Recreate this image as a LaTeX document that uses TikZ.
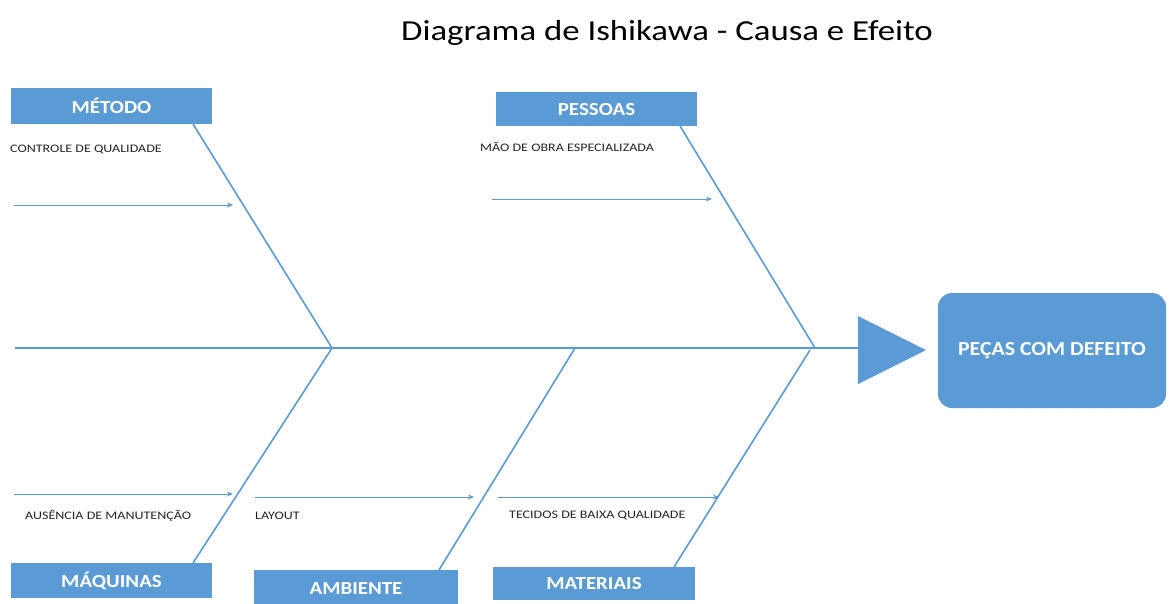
\documentclass[tikz,border=0pt]{standalone}
\usepackage{fontspec}
\setmainfont{Carlito}
\newfontfamily\titlefont[FakeStretch=1.2]{Carlito}
\newfontfamily\boxfont[FakeStretch=1.13]{Carlito}
\newfontfamily\effectfont[FakeStretch=1.09]{Carlito}
\newfontfamily\smallfont[FakeStretch=1.22]{Carlito}
\usetikzlibrary{arrows.meta}
\definecolor{ofblue}{HTML}{5B9BD5}
\begin{document}
\begin{tikzpicture}[x=1pt,y=-1pt,
  catbox/.style={fill=ofblue,draw=none,text=white,font=\boxfont\fontsize{18.5}{20}\selectfont\bfseries,inner sep=0pt},
  bone/.style={draw=ofblue,line width=1.6pt},
  sub/.style={draw=ofblue,line width=0.9pt,-{Stealth[length=6pt,width=5pt]}},
  lbl/.style={font=\smallfont\fontsize{11.5}{13}\selectfont,anchor=west,inner sep=0pt,text=black!85}]
\useasboundingbox (0,0) rectangle (1169,603);
\node[font=\titlefont\fontsize{29}{32}\selectfont] (title) at (667,33) {Diagrama de Ishikawa - Causa e Efeito};
% category boxes
\node[catbox,minimum width=201pt,minimum height=36pt] (metodo) at (111.5,106) {MÉTODO};
\node[catbox,minimum width=201pt,minimum height=34pt] (pessoas) at (596.5,109) {PESSOAS};
\node[catbox,minimum width=201pt,minimum height=35pt] (maquinas) at (111.5,580.5) {MÁQUINAS};
\node[catbox,minimum width=204pt,minimum height=36pt] (ambiente) at (356,588) {AMBIENTE};
\node[catbox,minimum width=202pt,minimum height=33pt] (materiais) at (594,583.5) {MATERIAIS};
% effect
\node[fill=ofblue,rounded corners=14pt,minimum width=228pt,minimum height=115pt,text=white,font=\effectfont\fontsize{20}{22}\selectfont\bfseries] (efeito) at (1052,350.5) {PEÇAS COM DEFEITO};
% spine
\coordinate (s0) at (15,348);
\coordinate (s1) at (858,348);
\draw[bone] (s0) -- (s1);
\fill[ofblue] (858,316) -- (858,384) -- (926,350) -- cycle;
% junctions
\coordinate (j1) at (332,348);
\coordinate (j2) at (815,348);
\coordinate (j3) at (575,348);
\coordinate (j4) at (810,350);
% bones
\draw[bone] (193,124) -- (j1);
\draw[bone] (680,126) -- (j2);
\draw[bone] (j1) -- (193,563);
\draw[bone] (j3) -- (439,570);
\draw[bone] (j4) -- (674,567);
% sub-causes
\coordinate (a0) at (14,205); \coordinate (a1) at (233,205);
\draw[sub] (a0) -- (a1);
\coordinate (b0) at (492,199); \coordinate (b1) at (712,199);
\draw[sub] (b0) -- (b1);
\coordinate (c0) at (14,494); \coordinate (c1) at (233,494);
\draw[sub] (c0) -- (c1);
\coordinate (d0) at (255,497); \coordinate (d1) at (474,497);
\draw[sub] (d0) -- (d1);
\coordinate (e0) at (498,497); \coordinate (e1) at (719,497);
\draw[sub] (e0) -- (e1);
% labels
\node[lbl] (l1) at (10,150) {CONTROLE DE QUALIDADE};
\node[lbl] (l2) at (480,147) {MÃO DE OBRA ESPECIALIZADA};
\node[lbl] (l3) at (25,516) {AUSÊNCIA DE MANUTENÇÃO};
\node[lbl] (l4) at (255,516) {LAYOUT};
\node[lbl] (l5) at (509,516) {TECIDOS DE BAIXA QUALIDADE};
\end{tikzpicture}
\end{document}
